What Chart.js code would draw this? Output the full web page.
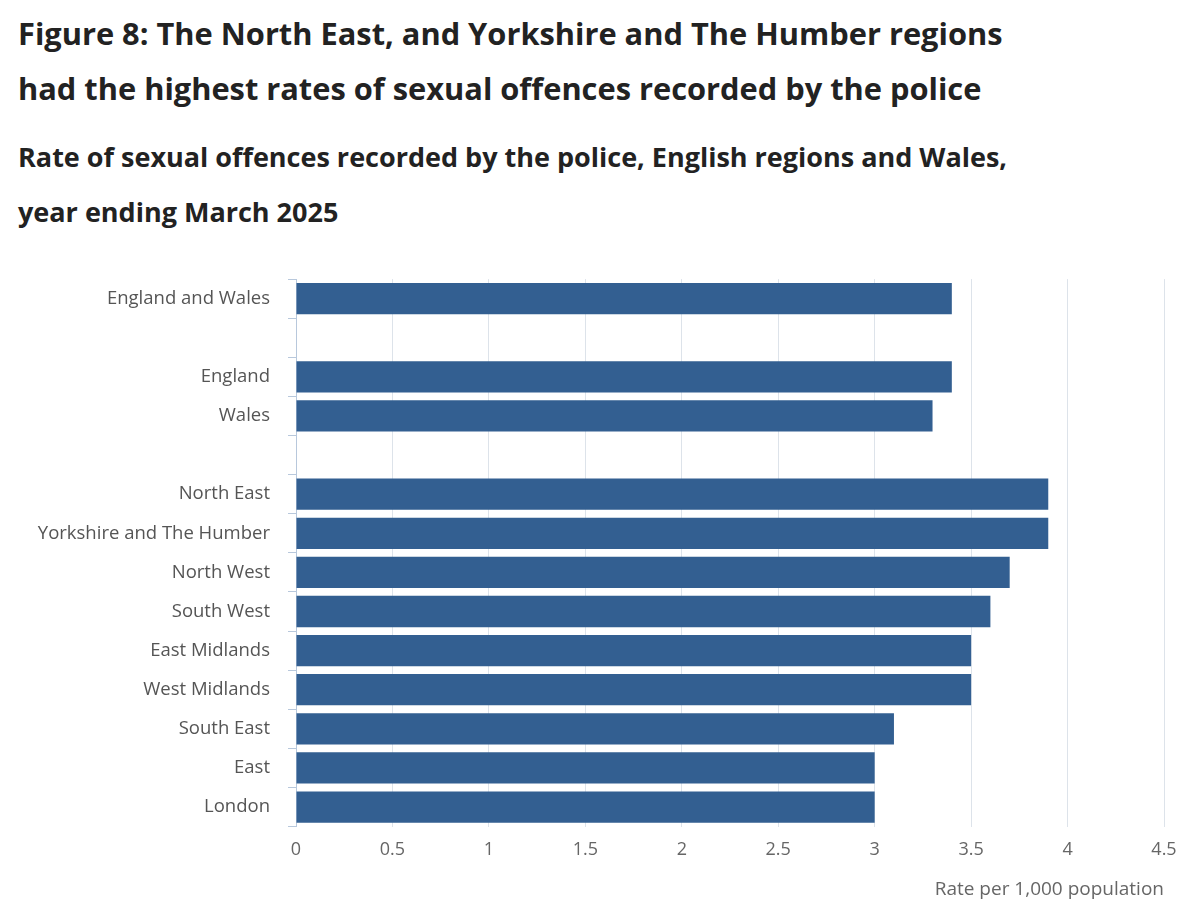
<!DOCTYPE html>
<html><head><meta charset="utf-8">
<script src="https://cdn.jsdelivr.net/npm/chart.js@4"></script>
<style>
body{margin:0;background:#fff;font-family:"Open Sans",sans-serif;color:#222;}
h1{position:absolute;left:18px;top:6px;margin:0;font-size:30.8px;line-height:55px;font-weight:700;width:1190px;white-space:nowrap;}
h2{position:absolute;left:18px;top:129px;margin:0;font-size:27px;line-height:55px;font-weight:700;width:1190px;white-space:nowrap;}
#wrap{position:absolute;left:0;top:250px;width:1200px;height:667px;}
</style></head><body>
<h1>Figure 8: The North East, and Yorkshire and The Humber regions<br>had the highest rates of sexual offences recorded by the police</h1>
<h2>Rate of sexual offences recorded by the police, English regions and Wales,<br>year ending March 2025</h2>
<div id="wrap"><canvas id="c"></canvas></div>
<script>
const categories=["England and Wales","","England","Wales","","North East","Yorkshire and The Humber","North West","South West","East Midlands","West Midlands","South East","East","London"];
const rates=[3.4,null,3.4,3.3,null,3.9,3.9,3.7,3.6,3.5,3.5,3.1,3.0,3.0];
const xTicks=[0,0.5,1,1.5,2,2.5,3,3.5,4,4.5];
new Chart(document.getElementById('c'),{
 type:'bar',
 data:{labels:categories,datasets:[{data:rates,backgroundColor:'#335f91',barPercentage:0.8,categoryPercentage:1}]},
 options:{indexAxis:'y',responsive:true,maintainAspectRatio:false,animation:false,
  layout:{padding:{top:11,right:36,left:0,bottom:12}},
  plugins:{legend:{display:false},tooltip:{enabled:false}},
  scales:{
   x:{min:0,max:4.5,afterBuildTicks:s=>{s.ticks=xTicks.map(v=>({value:v}));},
      grid:{color:'#dde3ea',drawTicks:false},border:{display:false},
      ticks:{color:'#666',font:{family:'Open Sans',size:18},padding:12,callback:v=>String(v)},
      title:{display:true,text:'Rate per 1,000 population',align:'end',color:'#666',font:{family:'Open Sans',size:19},padding:{top:6}}},
   y:{afterFit:s=>{s.width=296;},
      grid:{display:true,drawOnChartArea:false,offset:true,color:'#b8c8dc',tickLength:8},
      border:{display:true,color:'#b8c8dc'},
      ticks:{color:'#555',font:{family:'Open Sans',size:18.5},padding:18}}
  }}
});
</script></body></html>
